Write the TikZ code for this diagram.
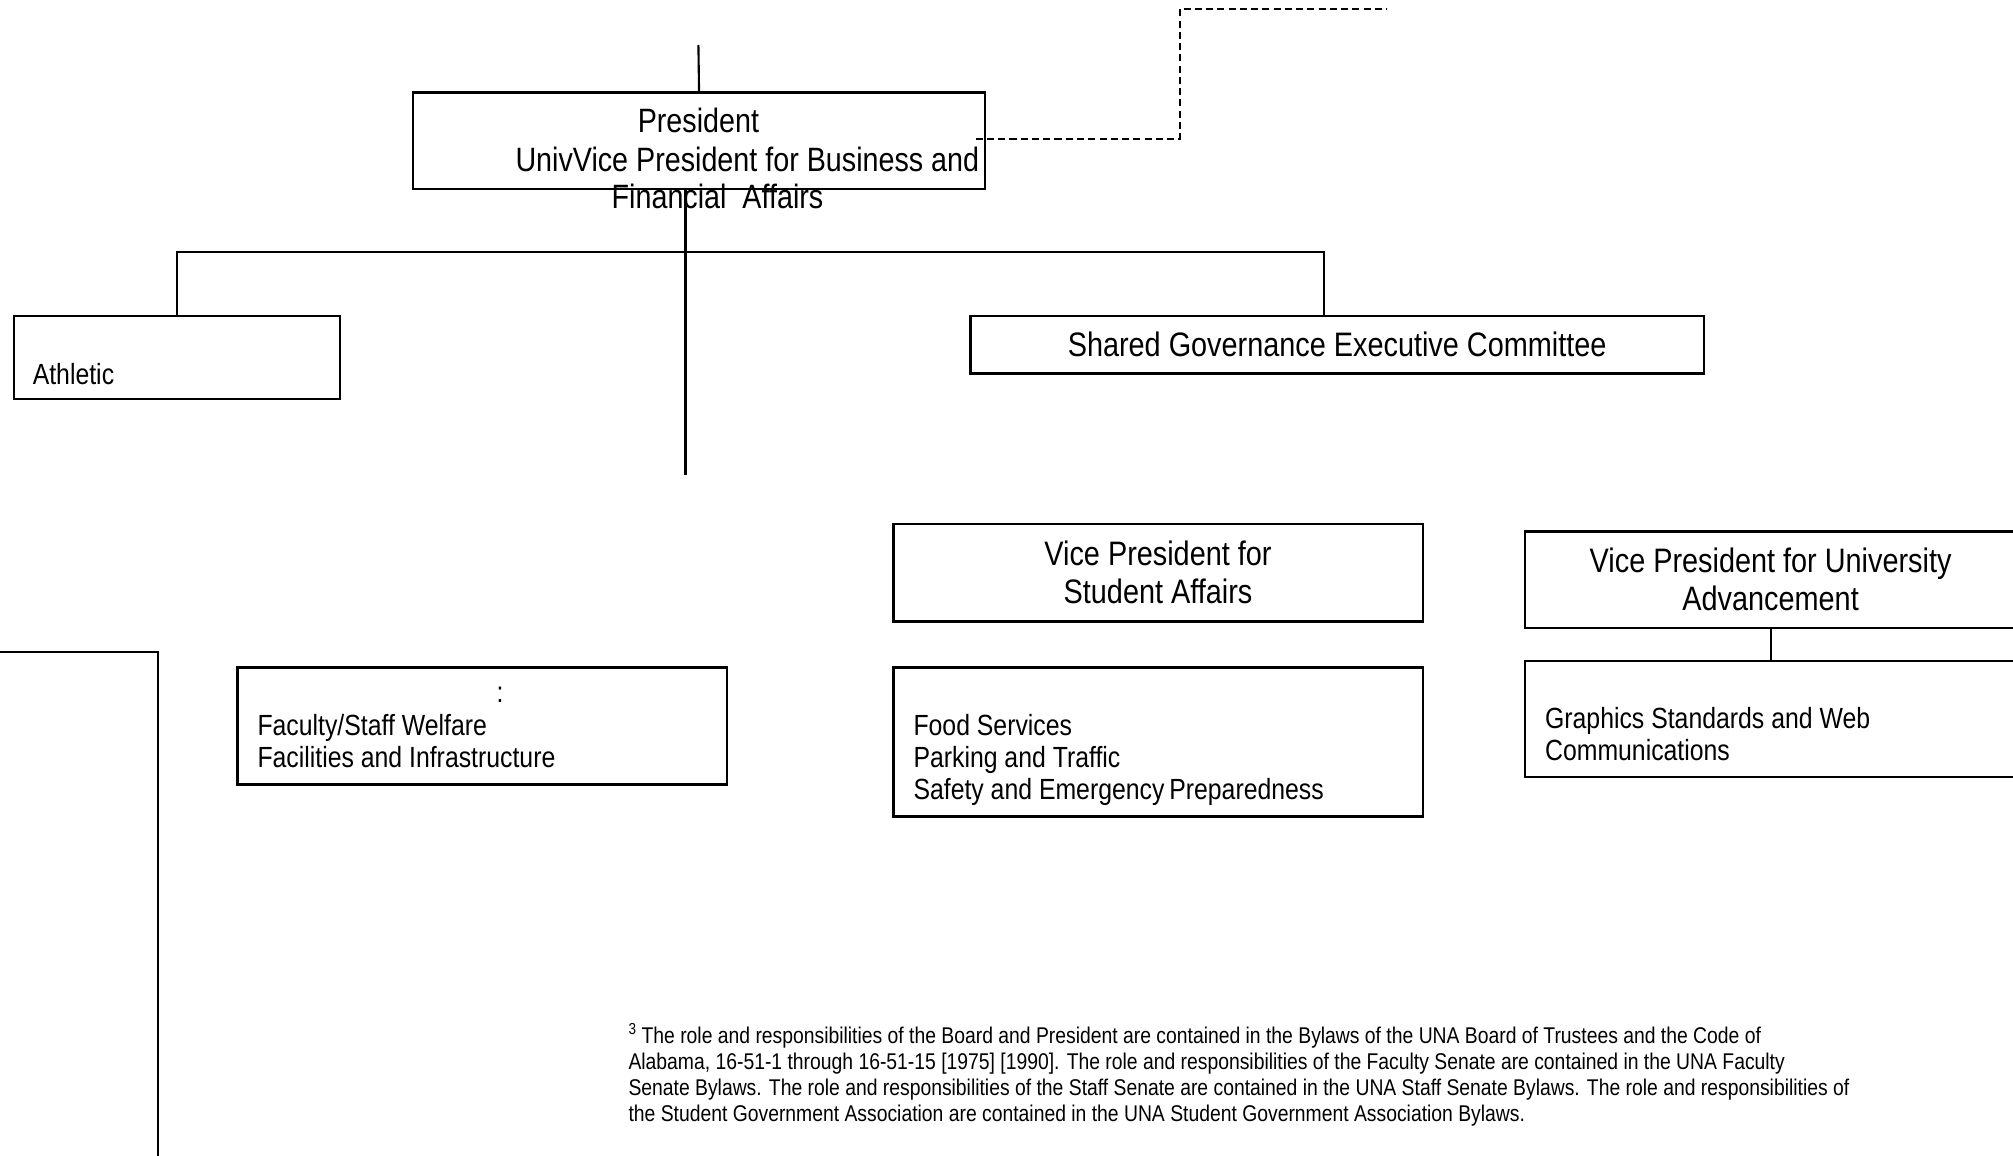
\documentclass[tikz,border=0pt]{standalone}
\usepackage{fontspec}
\setmainfont{Liberation Sans}[FakeStretch=0.85]
\usetikzlibrary{positioning}

\begin{document}
\begin{tikzpicture}[
 x=0.01cm, y=-0.01cm,
 box/.style={rectangle, draw, line width=0.65pt, inner sep=0pt, align=center, font=\fontsize{9.65}{10.8}\selectfont},
 bigtext/.style={inner sep=0pt, font=\fontsize{9.6}{10.8}\selectfont},
 smalltext/.style={inner sep=0pt, align=left, anchor=west, font=\fontsize{8.3}{9.1}\selectfont},
 notetext/.style={inner sep=0pt, align=left, anchor=west, font=\fontsize{6.47}{7.4}\selectfont},
 line/.style={line width=0.6pt},
 dashline/.style={line width=0.6pt, dash pattern=on 2pt off 1.2pt}
 ]
 \useasboundingbox (0,0) rectangle (2013,1155);
 \clip (0,0) rectangle (2013,1155);

 % President
 \node[box, minimum width=5.713cm, minimum height=0.963cm] (pres) at (699.05,140.55) {};
 \node[bigtext] (prestitle) at (698.4,120.7) {President};
 \node[bigtext, anchor=west] (presline2) at (514.8,159.2) {UnivVice President for Business and};
 \node[bigtext, anchor=west] (presline3) at (611,196.4) {Financial\ \ Affairs};

 % Athletic and Shared Governance
 \node[box, minimum width=3.261cm, minimum height=0.835cm] (athl) at (177.15,357.55) {};
 \node[smalltext] (athltext) at (32.1,373.6) {Athletic};
 \node[box, minimum width=7.33cm, minimum height=0.578cm] (sgec) at (1337.1,344.7) {Shared Governance Executive Committee};

 % Vice Presidents
 \node[box, minimum width=5.29cm, minimum height=0.976cm] (vpsa) at (1158,572.6) {Vice President for\\Student Affairs};
 \node[box, minimum width=4.908cm, minimum height=0.963cm] (vpua) at (1770.6,579.65) {Vice President for University\\Advancement};

 % Committees
 \node[box, minimum width=1.679cm, minimum height=5.278cm] (leftcol) at (73.95,916.1) {};
 \node[box, minimum width=4.891cm, minimum height=1.168cm] (facil) at (482.05,726) {};
 \node[smalltext] (facilcolon) at (496,694.5) {:};
 \node[smalltext] (faciltext) at (256.8,741.35) {Faculty/Staff Welfare\\Facilities and Infrastructure};
 \node[box, minimum width=5.29cm, minimum height=1.489cm] (food) at (1158,742.05) {};
 \node[smalltext] (foodtext) at (912.8,760) {Food Services\\Parking and Traffic\\Safety and Emergency\,Preparedness};
 \node[box, minimum width=4.908cm, minimum height=1.155cm] (graph) at (1770.6,718.95) {};
 \node[smalltext] (graphtext) at (1544.4,734) {Graphics Standards and Web\\Communications};

 % Footnote
 \node[notetext] (note) at (627.8,1075.2) {\textsuperscript{3}\,The role and responsibilities of the Board and President are contained in the Bylaws of the UNA Board of Trustees and the Code of\\
 Alabama, 16-51-1 through 16-51-15 [1975] [1990]. The role and responsibilities of the Faculty Senate are contained in the UNA Faculty\\
 Senate Bylaws. The role and responsibilities of the Staff Senate are contained in the UNA Staff Senate Bylaws. The role and responsibilities of\\
 the Student Government Association are contained in the UNA Student Government Association Bylaws.};

 % Connector coordinates
 \coordinate (presin) at (698.4,45);
 \coordinate (trunktop) at (685.5,188.7);
 \coordinate (trunkend) at (685.5,475);
 \coordinate (bus) at (685.5,251.6);
 \coordinate (sgtop) at (1323.6,315.8);
 \coordinate (dashstart) at (975.7,138.7);
 \coordinate (dashcorner) at (1179.8,9);
 \coordinate (dashend) at (1386.5,9);

 % Connectors
 \draw[line] (presin) -- (pres.north);
 \draw[line] (trunktop) -- (trunkend);
 \draw[line] (athl.north) -- (athl.north |- bus) -| (sgtop);
 \draw[line] (vpua.south) -- (graph.north);
 \draw[dashline] (dashstart) -| (dashcorner) -- (dashend);
\end{tikzpicture}
\end{document}
